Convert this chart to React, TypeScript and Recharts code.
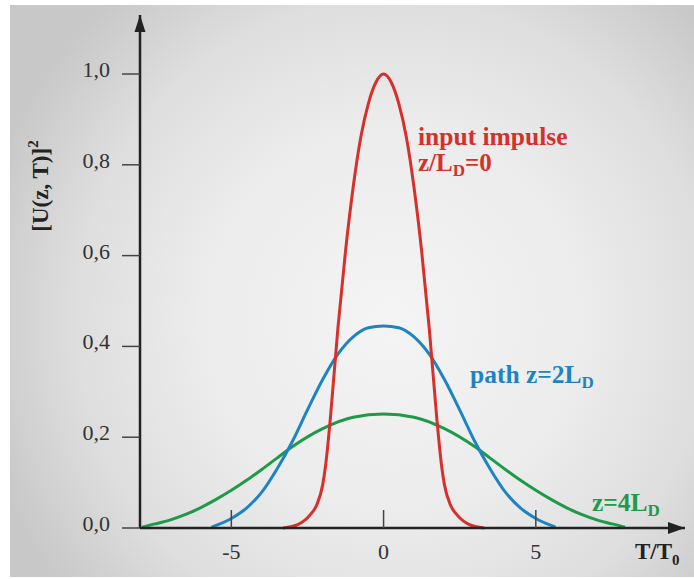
import React from "react";
import { LineChart, Line, XAxis, YAxis, ReferenceDot, Customized } from "recharts";

// Input impulse z/L_D = 0 (red)
const redT = [-3.3, -2.8, -2.4, -2.2, -2.0, -1.9, -1.75, -1.5, -1.25, -1.0, -0.75, -0.5, -0.25, 0, 0.25, 0.5, 0.75, 1.0, 1.25, 1.5, 1.75, 1.9, 2.0, 2.2, 2.4, 2.8, 3.3];
const redU = [0, 0.008, 0.03, 0.05, 0.095, 0.14, 0.24, 0.44, 0.61, 0.75, 0.86, 0.935, 0.982, 1.0, 0.982, 0.935, 0.86, 0.75, 0.61, 0.44, 0.24, 0.14, 0.095, 0.05, 0.03, 0.008, 0];

// path z = 2L_D (blue)
const blueT = [-5.65, -5.0, -4.5, -4.0, -3.5, -3.0, -2.5, -2.0, -1.5, -1.0, -0.5, 0, 0.5, 1.0, 1.5, 2.0, 2.5, 3.0, 3.5, 4.0, 4.5, 5.0, 5.65];
const blueU = [0.002, 0.021, 0.044, 0.079, 0.13, 0.19, 0.26, 0.327, 0.383, 0.421, 0.441, 0.445, 0.441, 0.421, 0.383, 0.327, 0.26, 0.19, 0.13, 0.079, 0.044, 0.021, 0.002];

// z = 4L_D (green)
const greenT = [-7.93, -7.5, -7.0, -6.5, -6.0, -5.5, -5.0, -4.5, -4.0, -3.5, -3.0, -2.0, -1.0, 0, 1.0, 2.0, 3.0, 3.5, 4.0, 4.5, 5.0, 5.5, 6.0, 6.5, 7.0, 7.5, 7.93];
const greenU = [0.002, 0.009, 0.018, 0.03, 0.045, 0.063, 0.083, 0.105, 0.129, 0.154, 0.179, 0.219, 0.244, 0.251, 0.244, 0.219, 0.179, 0.154, 0.129, 0.105, 0.083, 0.063, 0.045, 0.03, 0.018, 0.009, 0.002];

const xTicks = [-5, 0, 5];
const yTicks = [0, 0.2, 0.4, 0.6, 0.8, 1.0];

const toData = (ts: number[], us: number[]) => ts.map((t, i) => ({ t, u: us[i] }));
const redData = toData(redT, redU);
const blueData = toData(blueT, blueU);
const greenData = toData(greenT, greenU);

const RED = "#d6302c";
const BLUE = "#1d84c4";
const GREEN = "#1e9a48";
const AXIS = "#222";
const FONT = "Liberation Serif";

const XTick = (props: any) => {
  const { x, y, payload } = props;
  return (
    <g>
      <line x1={x} x2={x} y1={y - 18} y2={y} stroke="#444" strokeWidth={1.5} />
      <text x={x} y={y + 31} textAnchor="middle" fontFamily={FONT} fontSize={22} fill="#333">
        {payload.value < 0 ? `-${Math.abs(payload.value)}` : payload.value}
      </text>
    </g>
  );
};

const YTick = (props: any) => {
  const { x, y, payload } = props;
  return (
    <text x={x} y={y + 3} textAnchor="end" fontFamily={FONT} fontSize={22} fill="#333">
      {Number(payload.value).toFixed(1).replace(".", ",")}
    </text>
  );
};

const ArrowRight = (props: any) => {
  const { cx, cy } = props;
  return <path d={`M${cx} ${cy} L${cx - 17} ${cy - 6} L${cx - 17} ${cy + 6} Z`} fill={AXIS} />;
};

const ArrowUp = (props: any) => {
  const { cx, cy } = props;
  return <path d={`M${cx} ${cy} L${cx - 5.5} ${cy + 17} L${cx + 5.5} ${cy + 17} Z`} fill={AXIS} />;
};

const Annotations = () => (
  <g fontWeight="bold" fontFamily={FONT}>
    <text x={48} y={186} transform="rotate(-90 48 186)" textAnchor="middle" fontSize={23} fill="#222">
      [U(z, T)]
      <tspan fontSize={15} dy={-10}>2</tspan>
    </text>
    <text x={418} y={145} fontSize={25.5} fill={RED}>input impulse</text>
    <text x={418} y={171} fontSize={25} fill={RED}>
      z/L<tspan fontSize={17} dy={5}>D</tspan>
      <tspan dy={-5}>=0</tspan>
    </text>
    <text x={470} y={383} fontSize={25.5} fill={BLUE}>
      path z=2L<tspan fontSize={17} dy={5}>D</tspan>
    </text>
    <text x={592} y={511} fontSize={25.5} fill={GREEN}>
      z=4L<tspan fontSize={17} dy={5}>D</tspan>
    </text>
    <text x={635} y={559} fontSize={23} fill="#222">
      T/T<tspan fontSize={15} dy={6}>0</tspan>
    </text>
  </g>
);

export default function App() {
  return (
    <div style={{ position: "absolute", left: 0, top: 0, width: 694, height: 579, background: "#fff" }}>
      <div
        style={{
          position: "absolute",
          left: 10,
          top: 5,
          width: 684,
          height: 572,
          background:
            "radial-gradient(ellipse 62% 75% at 56% 55%, #f4f4f4 0%, #ececec 45%, #dedede 75%, #c8c8c8 100%)",
        }}
      />
      <div style={{ position: "absolute", left: 0, top: 0 }}>
        <LineChart width={694} height={579} margin={{ top: 15, right: 9, bottom: 0, left: 0 }}>
          <XAxis
            dataKey="t"
            type="number"
            domain={[-8, 9.9]}
            ticks={xTicks}
            height={51}
            axisLine={{ stroke: AXIS, strokeWidth: 2.5 }}
            tickLine={false}
            tickSize={0}
            tickMargin={0}
            tick={<XTick />}
            allowDuplicatedCategory={false}
          />
          <YAxis
            type="number"
            domain={[0, 1.13]}
            ticks={yTicks}
            width={140}
            axisLine={{ stroke: AXIS, strokeWidth: 2.5 }}
            tickLine={{ stroke: "#444", strokeWidth: 1.5 }}
            tickSize={18}
            tickMargin={12}
            tick={<YTick />}
          />
          <Line data={greenData} dataKey="u" type="monotone" stroke={GREEN} strokeWidth={3} dot={false} isAnimationActive={false} />
          <Line data={blueData} dataKey="u" type="monotone" stroke={BLUE} strokeWidth={3} dot={false} isAnimationActive={false} />
          <Line data={redData} dataKey="u" type="monotone" stroke={RED} strokeWidth={3} dot={false} isAnimationActive={false} />
          <ReferenceDot x={9.9} y={0} r={0} shape={<ArrowRight />} />
          <ReferenceDot x={-8} y={1.13} r={0} shape={<ArrowUp />} />
          <Customized component={Annotations} />
        </LineChart>
      </div>
    </div>
  );
}
